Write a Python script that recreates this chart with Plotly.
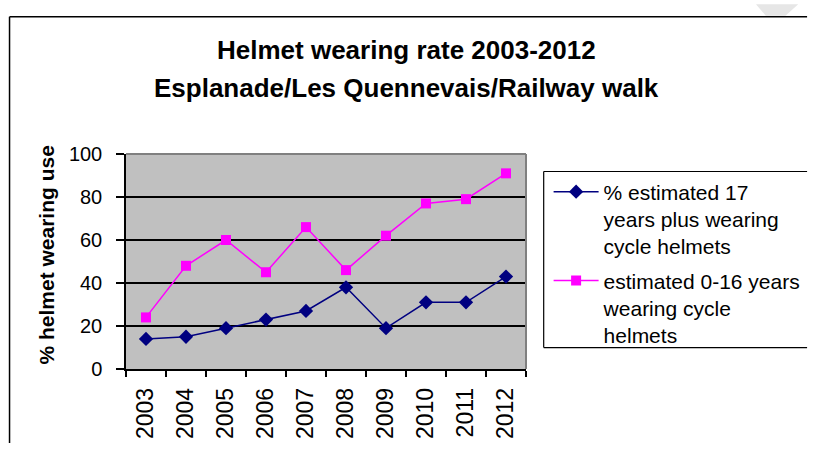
import plotly.graph_objects as go

years = ["2003", "2004", "2005", "2006", "2007", "2008", "2009", "2010", "2011", "2012"]
adults = [14, 15, 19, 23, 27, 38, 19, 31, 31, 43]
children = [24, 48, 60, 45, 66, 46, 62, 77, 79, 91]
y_ticks = [0, 20, 40, 60, 80, 100]

name_adults = "% estimated 17<br>years plus wearing<br>cycle helmets"
name_children = "estimated 0-16 years<br>wearing cycle<br>helmets"

W, H = 819, 451
# plot area in page pixels
L, R, T, B = 126, 533, 154, 375
pw, ph = R - L, B - T


def px(x):
    return (x - L) / pw


def py(y):
    return (B - y) / ph


FONT = "Liberation Sans, Arial, sans-serif"

fig = go.Figure()
fig.add_trace(go.Scatter(
    x=years, y=adults, name=name_adults, mode="lines+markers",
    line=dict(color="#000080", width=1.5),
    marker=dict(symbol="diamond", size=11, color="#000080"),
    legendgroup="a",
))
fig.add_trace(go.Scatter(
    x=years, y=children, name=name_children, mode="lines+markers",
    line=dict(color="#FF00FF", width=1.5),
    marker=dict(symbol="square", size=10, color="#FF00FF"),
    legendgroup="b",
))


def hline(x0, x1, y, color="#000", w=1.5, layer="below"):
    return dict(type="line", xref="paper", yref="paper", x0=px(x0), x1=px(x1), y0=py(y), y1=py(y),
                line=dict(color=color, width=w), layer=layer)


def vline(x, y0, y1, color="#000", w=1.5, layer="below"):
    return dict(type="line", xref="paper", yref="paper", x0=px(x), x1=px(x), y0=py(y0), y1=py(y1),
                line=dict(color=color, width=w), layer=layer)


shapes = [
    # plot area top/right border in grey
    dict(type="line", xref="paper", yref="paper", x0=0, x1=1, y0=1, y1=1,
         line=dict(color="#808080", width=2), layer="above"),
    dict(type="line", xref="paper", yref="paper", x0=1, x1=1, y0=0, y1=1,
         line=dict(color="#808080", width=2), layer="above"),
    # outer chart border (left and top)
    vline(7.5, 13, H),
    hline(7.5, W, 13),
    # legend box (its right side is beyond the page)
    hline(551, W, 172, w=1.2),
    hline(551, W, 353, w=1.2),
    vline(551, 172, 353, w=1.2),
    # faint watermark fragment at top right
    dict(type="path", xref="paper", yref="paper",
         path=f"M {px(767)} {py(0)} L {px(810)} {py(0)} L {px(797)} {py(12)} L {px(777)} {py(12)} Z",
         fillcolor="#e6e6e6", line=dict(width=0)),
]

annotations = [
    dict(text="<b>Helmet wearing rate 2003-2012</b>", xref="paper", yref="paper",
         x=px(411), y=py(47), xanchor="center", yanchor="middle", showarrow=False,
         font=dict(family=FONT, size=26, color="#000")),
    dict(text="<b>Esplanade/Les Quennevais/Railway walk</b>", xref="paper", yref="paper",
         x=px(411), y=py(86), xanchor="center", yanchor="middle", showarrow=False,
         font=dict(family=FONT, size=26, color="#000")),
    dict(text="<b>% helmet wearing use</b>", xref="paper", yref="paper",
         x=px(45), y=py(258), xanchor="center", yanchor="middle", showarrow=False, textangle=-90,
         font=dict(family=FONT, size=21, color="#000")),
]

fig.update_layout(
    width=W, height=H,
    margin=dict(l=L, r=W - R, t=T, b=H - B, pad=0),
    paper_bgcolor="white", plot_bgcolor="#C0C0C0",
    font=dict(family=FONT, size=20, color="#000"),
    showlegend=True,
    legend=dict(x=px(556), y=py(172), xanchor="left", yanchor="top",
                bgcolor="rgba(0,0,0,0)", borderwidth=0, valign="top",
                font=dict(family=FONT, size=21, color="#000"),
                itemwidth=45, tracegroupgap=4),
    shapes=shapes,
    annotations=annotations,
)
fig.update_xaxes(
    type="category", range=[-0.5, 9.5], tickson="boundaries",
    ticks="outside", ticklen=6, tickcolor="#000", tickwidth=1.5,
    showline=True, linecolor="#000", linewidth=1.5, mirror=False,
    showgrid=False, tickangle=-90, ticklabelstandoff=8,
    tickfont=dict(family=FONT, size=23),
)
fig.update_yaxes(
    range=[0, 100], tickvals=y_ticks, ticks="outside", ticklen=8,
    tickcolor="#000", tickwidth=1.5, showline=True, linecolor="#000", linewidth=1.5,
    showgrid=True, gridcolor="#000", gridwidth=1.5, zeroline=False,
    ticklabelstandoff=10, tickfont=dict(family=FONT, size=20),
)

fig.write_html(
    "out.html",
    config={"displayModeBar": False},
    post_script=(
        "document.body.style.margin='0';"
        "document.body.style.overflow='hidden';"
        "document.documentElement.style.overflow='hidden';"
    ),
)
